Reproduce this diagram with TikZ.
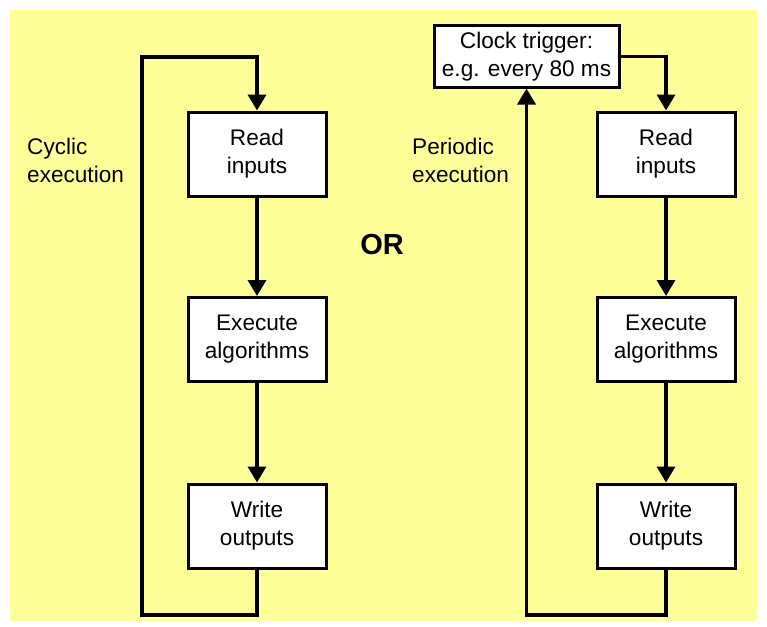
\documentclass[tikz,border=0pt]{standalone}
\usepackage{fontspec}
\setmainfont{Liberation Sans}
\usetikzlibrary{arrows.meta}
\definecolor{bgyellow}{RGB}{255,255,153}
\tikzstyle{blk} = [rectangle, draw=black, fill=white, line width=3pt, align=center, minimum width=138pt, minimum height=84pt, inner sep=0pt, font=\fontsize{22.6}{28}\selectfont]
\tikzstyle{lbl} = [align=left, anchor=west, inner sep=0pt, font=\fontsize{22.6}{28}\selectfont]
\tikzstyle{flow} = [line width=3.5pt, -{Triangle[width=18pt,length=16pt]}]

\begin{document}
\begin{tikzpicture}[x=1pt,y=-1pt]
\useasboundingbox (0,0) rectangle (767,626);
\fill[bgyellow] (10,10) rectangle (757,621);

% cyclic
\node [blk] (readL) at (257,154) {Read\\inputs};
\node [blk] (execL) at (257,339.5) {Execute\\algorithms};
\node [blk] (writeL) at (257,526) {Write\\outputs};
\coordinate (cycA) at (257,615);
\coordinate (cycB) at (142,615);
\coordinate (cycC) at (142,57);
\coordinate (cycD) at (257,57);
\node [lbl] (cyclbl) at (27,160) {Cyclic\\execution};

\draw [flow] (readL) -- (execL);
\draw [flow] (execL) -- (writeL);
\draw [flow] (writeL.south) -- (cycA) -- (cycB) -- (cycC) -- (cycD) -- (readL.north);

% OR
\node [font=\bfseries\fontsize{29}{34}\selectfont] (or) at (382,245) {OR};

% periodic
\node [blk, minimum width=185pt, minimum height=61pt] (clock) at (526.5,56.5) {Clock trigger:\\e.g. every 80 ms};
\node [blk] (readR) at (666,154) {Read\\inputs};
\node [blk] (execR) at (666,339.5) {Execute\\algorithms};
\node [blk] (writeR) at (666,526) {Write\\outputs};
\coordinate (perA) at (666,615);
\coordinate (perB) at (526.5,615);
\node [lbl] (perlbl) at (412,160) {Periodic\\execution};

\draw [flow] (clock.east) -| (readR.north);
\draw [flow] (readR) -- (execR);
\draw [flow] (execR) -- (writeR);
\draw [flow] (writeR.south) -- (perA) -- (perB) -- (clock.south);
\end{tikzpicture}
\end{document}
